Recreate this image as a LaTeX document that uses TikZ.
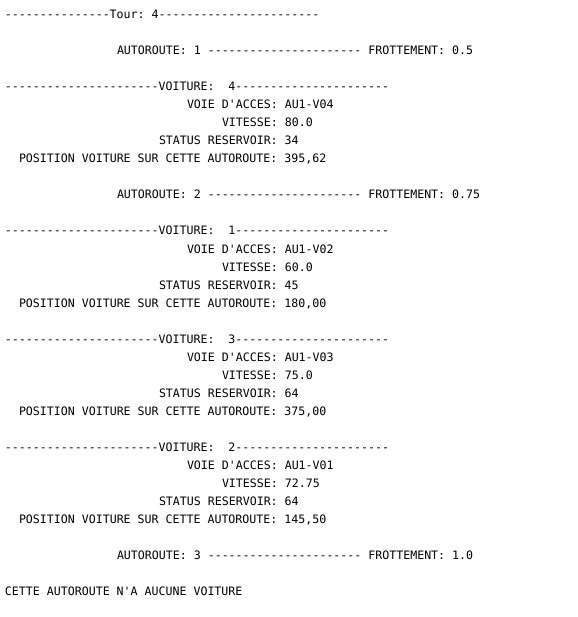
\documentclass[tikz,border=0pt]{standalone}
\usepackage{fontspec}
\setmonofont{DejaVu Sans Mono}
\usepackage{tikz}
\usetikzlibrary{positioning}

\begin{document}
\begin{tikzpicture}
[
    x = 1pt, y = -1pt,
    every node/.style = {anchor = base west, inner sep = 0pt, outer sep = 0pt,
                         font = \ttfamily\fontsize{11.6}{14}\selectfont, text = black}
  ]

  \useasboundingbox (0,0) rectangle (577,617);

  % tour
  \node (tour)  at (5,19)  {---------------Tour: 4-----------------------};

  % autoroute 1
  \node (ar1)   at (117,55)  {AUTOROUTE: 1 ---------------------- FROTTEMENT: 0.5};
  \node (v4)    at (5,91)    {----------------------VOITURE:\ \ 4----------------------};
  \node (v4a)   at (187,109) {VOIE D'ACCES: AU1-V04};
  \node (v4b)   at (222,127) {VITESSE: 80.0};
  \node (v4c)   at (159,145) {STATUS RESERVOIR: 34};
  \node (v4d)   at (19,163)  {POSITION VOITURE SUR CETTE AUTOROUTE: 395,62};

  % autoroute 2
  \node (ar2)   at (117,199) {AUTOROUTE: 2 ---------------------- FROTTEMENT: 0.75};
  \node (v1)    at (5,235)   {----------------------VOITURE:\ \ 1----------------------};
  \node (v1a)   at (187,253) {VOIE D'ACCES: AU1-V02};
  \node (v1b)   at (222,271) {VITESSE: 60.0};
  \node (v1c)   at (159,289) {STATUS RESERVOIR: 45};
  \node (v1d)   at (19,307)  {POSITION VOITURE SUR CETTE AUTOROUTE: 180,00};

  \node (v3)    at (5,343)   {----------------------VOITURE:\ \ 3----------------------};
  \node (v3a)   at (187,361) {VOIE D'ACCES: AU1-V03};
  \node (v3b)   at (222,379) {VITESSE: 75.0};
  \node (v3c)   at (159,397) {STATUS RESERVOIR: 64};
  \node (v3d)   at (19,415)  {POSITION VOITURE SUR CETTE AUTOROUTE: 375,00};

  \node (v2)    at (5,451)   {----------------------VOITURE:\ \ 2----------------------};
  \node (v2a)   at (187,469) {VOIE D'ACCES: AU1-V01};
  \node (v2b)   at (222,487) {VITESSE: 72.75};
  \node (v2c)   at (159,505) {STATUS RESERVOIR: 64};
  \node (v2d)   at (19,523)  {POSITION VOITURE SUR CETTE AUTOROUTE: 145,50};

  % autoroute 3
  \node (ar3)   at (117,559) {AUTOROUTE: 3 ---------------------- FROTTEMENT: 1.0};
  \node (none)  at (5,595)   {CETTE AUTOROUTE N'A AUCUNE VOITURE};

\end{tikzpicture}
\end{document}
